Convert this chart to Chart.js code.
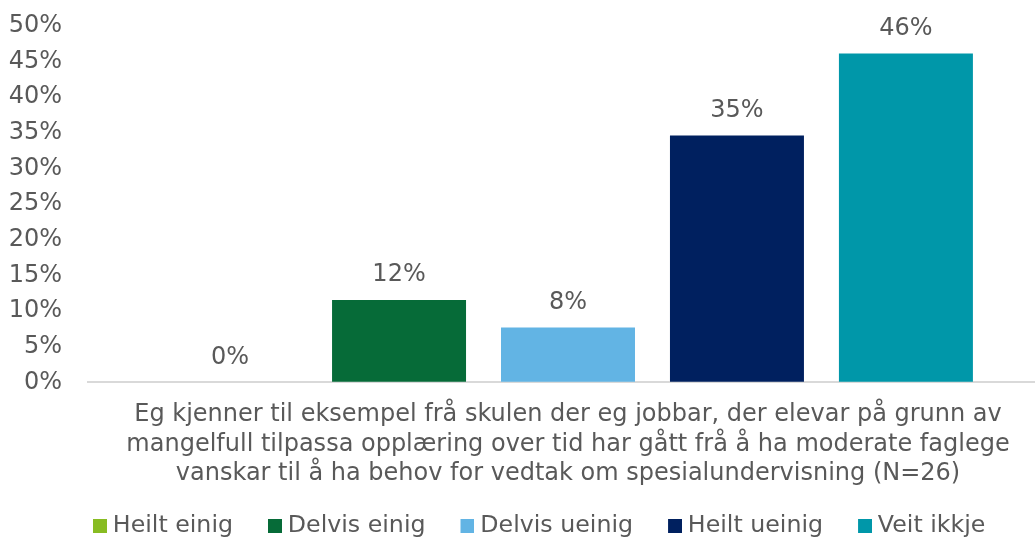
<!DOCTYPE html>
<html>
<head>
<meta charset="utf-8">
<script src="https://cdn.jsdelivr.net/npm/chart.js@4"></script>
<style>
  html, body { margin: 0; padding: 0; overflow: hidden; background: #fff; }
  #wrap { width: 1048px; height: 548px; }
</style>
</head>
<body>
<div id="wrap"><canvas id="c" width="1048" height="548"></canvas></div>
<script>
const categoryLines = [
  "Eg kjenner til eksempel frå skulen der eg jobbar, der elevar på grunn av",
  "mangelfull tilpassa opplæring over tid har gått frå å ha moderate faglege",
  "vanskar til å ha behov for vedtak om spesialundervisning (N=26)"
];
const seriesNames = ["Heilt einig", "Delvis einig", "Delvis ueinig", "Heilt ueinig", "Veit ikkje"];
const seriesValues = [0, 11.54, 7.69, 34.62, 46.15];
const seriesColors = ["#88BC22", "#066B38", "#62B4E4", "#00205F", "#0097A9"];
const yTicks = [0, 5, 10, 15, 20, 25, 30, 35, 40, 45, 50];

const FONT = "'DejaVu Sans', Verdana, sans-serif";
const TEXT = "#595959";
const BW = 33;

function swatch(color) {
  const cv = document.createElement('canvas');
  cv.width = BW + 12; cv.height = 14;
  const g = cv.getContext('2d');
  g.fillStyle = color;
  g.fillRect(BW - 2, 0, 14, 14);
  return cv;
}
const swatches = seriesColors.map(swatch);

const labelPlugin = {
  id: 'barLabels',
  afterLayout(chart) {
    if (chart.legend) chart.legend.left = 58;
  },
  afterDatasetsDraw(chart) {
    const ctx = chart.ctx;
    ctx.save();
    ctx.font = "24px " + FONT;
    ctx.fillStyle = TEXT;
    ctx.textAlign = 'center';
    ctx.textBaseline = 'middle';
    chart.data.datasets.forEach((ds, i) => {
      const meta = chart.getDatasetMeta(i);
      meta.data.forEach((el, j) => {
        ctx.fillText(Math.round(ds.data[j]) + '%', el.x, el.y - 25);
      });
    });
    ctx.restore();
  }
};

new Chart(document.getElementById('c'), {
  type: 'bar',
  data: {
    labels: [categoryLines],
    datasets: seriesNames.map((n, i) => ({
      label: n,
      data: [seriesValues[i]],
      backgroundColor: seriesColors[i],
      borderWidth: 0,
      categoryPercentage: 0.88,
      barPercentage: 0.793
    }))
  },
  options: {
    responsive: false,
    animation: false,
    layout: { padding: { top: 26, left: 8, right: 0, bottom: 0 } },
    plugins: {
      tooltip: { enabled: false },
      legend: {
        position: 'bottom',
        align: 'start',
        labels: {
          font: { size: 23.7, family: FONT },
          color: TEXT,
          padding: 10,
          usePointStyle: true,
          pointStyleWidth: BW,
          generateLabels(chart) {
            const items = Chart.defaults.plugins.legend.labels.generateLabels(chart);
            items.forEach((it, i) => { it.pointStyle = swatches[i]; });
            return items;
          }
        }
      }
    },
    scales: {
      x: {
        grid: { display: false, drawTicks: false },
        border: { display: true, color: '#D9D9D9', width: 2 },
        ticks: {
          font: { size: 24, family: FONT, lineHeight: 1.23 },
          color: TEXT,
          padding: 18,
          maxRotation: 0,
          autoSkip: false
        },
        afterFit(s) { s.height = 122; }
      },
      y: {
        min: 0,
        max: 50,
        grid: { display: true, drawOnChartArea: false, drawTicks: true, tickLength: 23, color: 'rgba(0,0,0,0)' },
        border: { display: false },
        afterBuildTicks(s) { s.ticks = yTicks.map(v => ({ value: v })); },
        ticks: {
          font: { size: 24, family: FONT },
          color: TEXT,
          padding: 3,
          callback: v => v + '%'
        },
        afterFit(s) { s.width = 80; }
      }
    }
  },
  plugins: [labelPlugin]
});
</script>
</body>
</html>
